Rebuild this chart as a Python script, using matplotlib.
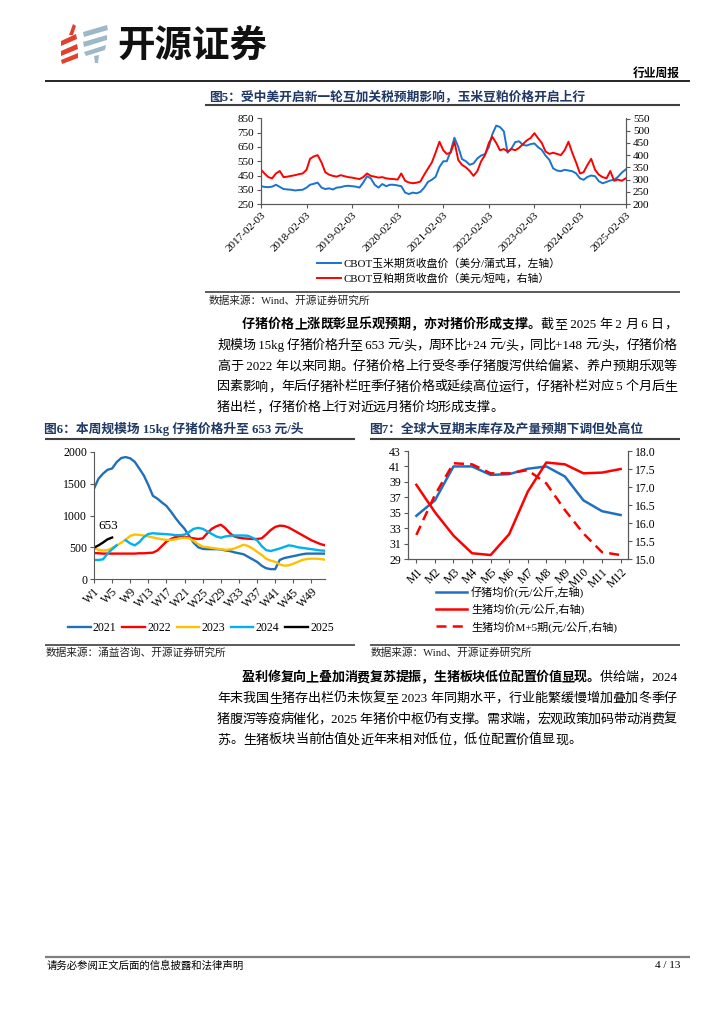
import re
import numpy as np
import pandas as pd
import matplotlib
matplotlib.use("Agg")
import matplotlib.pyplot as plt

# -----------------------------
# Data
# -----------------------------
# Fig 5: CBOT corn (left, cents/bushel) and soybean meal (right, USD/short ton), monthly readings
corn_price = [
    375, 370, 368, 372, 385, 370, 355, 352, 350, 345, 348,            # 2017 Feb-Dec
    350, 365, 385, 392, 400, 365, 355, 360, 352, 365, 368, 375,       # 2018
    378, 375, 372, 365, 400, 445, 430, 385, 365, 390, 375, 385,       # 2019
    385, 380, 375, 330, 320, 330, 325, 335, 365, 405, 420, 440,       # 2020
    510, 550, 550, 620, 715, 650, 565, 550, 525, 535, 570, 590,       # 2021
    600, 650, 740, 800, 790, 760, 610, 640, 685, 690, 665, 660,       # 2022
    670, 675, 650, 630, 590, 560, 500, 485, 480, 490, 485, 480,       # 2023
    465, 430, 420, 440, 450, 445, 410, 395, 405, 415, 420, 440,       # 2024
    470, 492,                                                         # 2025 Jan-Feb
]
meal_price = [
    340, 325, 310, 305, 325, 335, 310, 312, 315, 318, 322,
    325, 340, 385, 395, 400, 370, 330, 320, 315, 312, 318, 314,
    310, 308, 305, 302, 310, 325, 315, 312, 308, 310, 305, 303,
    302, 300, 325, 295, 288, 285, 287, 292, 320, 345, 370, 410,
    455, 420, 405, 410, 455, 380, 360, 350, 335, 315, 335, 375,
    400, 450, 475, 450, 420, 425, 415, 425, 420, 430, 445, 460,
    470, 490, 470, 450, 415, 405, 410, 405, 400, 420, 455, 410,
    370, 325, 330, 360, 385, 340, 320, 310, 305, 335, 295, 300,
    295, 305,
]
month_dates = pd.date_range("2017-02-01", "2025-02-01", freq="MS") + pd.Timedelta(days=2)
year_ticks = [f"{y}-02-03" for y in range(2017, 2026)]

# Fig 6: piglet price by week (yuan/head)
weeks = list(range(1, 53))
week_labels = [f"W{w}" for w in weeks[::4]]
piglet_2021 = [1424, 1580, 1660, 1720, 1740, 1840, 1905, 1920, 1900, 1845,
               1740, 1630, 1480, 1310, 1265, 1205, 1150, 1060, 960, 870,
               790, 680, 570, 500, 475, 470, 470, 470, 465, 450,
               440, 420, 405, 390, 350, 310, 270, 210, 170, 155,
               155, 300, 330, 345, 360, 375, 390, 400, 400, 400, 400, 400]
piglet_2022 = [410, 405, 400, 400, 400, 400, 400, 400, 400, 400,
               405, 405, 410, 415, 450, 520, 590, 630, 660, 670,
               665, 650, 640, 630, 640, 720, 790, 830, 855, 800,
               720, 670, 650, 640, 635, 630, 630, 640, 700, 770,
               820, 840, 835, 810, 770, 730, 690, 650, 610, 580, 550, 530]
piglet_2023 = [490, 460, 450, 455, 490, 530, 570, 620, 680, 700,
               695, 685, 670, 655, 640, 625, 615, 615, 625, 640,
               650, 640, 600, 550, 510, 500, 490, 480, 470, 460,
               465, 480, 510, 540, 520, 480, 430, 380, 320, 290,
               270, 230, 210, 215, 240, 270, 300, 315, 320, 320, 315, 305]
piglet_2024 = [300, 300, 310, 400, 470, 530, np.nan, 610, 560, 530,
               580, 660, 710, 720, 715, 710, 705, 700, 690, 690,
               700, 740, 790, 805, 790, 750, 710, 670, 650, 670,
               680, 685, 685, 685, 680, 650, 610, 520, 455, 440,
               460, 480, 505, 530, 520, 500, 490, 480, 470, 460, 450, 445]
piglet_2025 = [493, 530, 575, 625, 653]

# Fig 7: monthly piglet / hog prices
months = [f"M{m}" for m in range(1, 13)]
piglet_avg = [34.6, 36.6, 41.0, 41.0, 39.9, 40.0, 40.7, 41.0, 39.7, 36.6, 35.2, 34.7]
hog_avg = [17.06, 16.30, 15.65, 15.16, 15.11, 15.69, 16.87, 17.68, 17.63, 17.38, 17.40, 17.50]
hog_avg_m5 = [15.67, 16.78, 17.66, 17.63, 17.38, 17.38, 17.47, 17.10, 16.36, 15.71, 15.19, 15.11]

# -----------------------------
# Page setup
# -----------------------------
W, H = 724, 1024
SERIF = ["Liberation Serif", "Noto Sans CJK SC"]
plt.rcParams["font.family"] = SERIF
plt.rcParams["axes.unicode_minus"] = False
NAVY = "#1F3864"
GREY = "#404040"
AX = "#595959"

fig = plt.figure(figsize=(W / 100, H / 100), dpi=100)
bg = fig.add_axes([0, 0, 1, 1], zorder=0)
bg.set_xlim(0, W)
bg.set_ylim(H, 0)
bg.axis("off")


def px_axes(x0, y0, x1, y1):
    ax = fig.add_axes([x0 / W, 1 - y1 / H, (x1 - x0) / W, (y1 - y0) / H], zorder=2)
    ax.set_facecolor("none")
    return ax


def hline(x0, x1, y, color, lw):
    bg.plot([x0, x1], [y, y], color=color, lw=lw, solid_capstyle="butt")


def write_line(x0, x1, y, parts, size, justify=True):
    # place each CJK char / ascii run separately so the line fills x0..x1
    renderer = fig.canvas.get_renderer()
    toks = []
    for s, bold in parts:
        for t in re.findall(r"[\x00-\x7f]+|.", s):
            toks.append((t, bold))
    widths = []
    for t, bold in toks:
        tx = bg.text(0, 0, t, fontsize=size, fontweight="bold" if bold else "normal")
        widths.append(tx.get_window_extent(renderer).width)
        tx.remove()
    gap = (x1 - x0 - sum(widths)) / (len(toks) - 1) if justify else 0
    x = x0
    for (t, bold), w in zip(toks, widths):
        bg.text(x, y, t, fontsize=size, fontweight="bold" if bold else "normal",
                ha="left", va="center", color="black")
        x += w + gap


# -----------------------------
# Header: logo + report type
# -----------------------------
red_bars = [[(61, 41), (76, 34), (77, 39), (61, 46)],
            [(61, 51), (77, 44), (78, 49), (61, 56)],
            [(61, 60), (78, 53), (78, 58), (62, 64)],
            [(69, 35), (73, 24), (76, 26), (73, 35)]]
blue_bars = [[(83, 32), (107, 25), (108, 30), (84, 37)],
             [(83, 42), (107, 35), (107, 40), (84, 47)],
             [(84, 52), (106, 45), (105, 50), (86, 56)],
             [(94, 56), (99, 55), (98, 63), (95, 63)]]
for p in red_bars:
    bg.add_patch(plt.Polygon(p, closed=True, color="#E0402E", lw=0))
for p in blue_bars:
    bg.add_patch(plt.Polygon(p, closed=True, color="#9DB8C8", lw=0))
bg.text(117, 45, "开源证券", fontsize=27, fontweight="bold", family="Noto Sans CJK SC",
        ha="left", va="center", color="#111111")
bg.text(680, 73, "行业周报", fontsize=8.5, fontweight="bold", family="Noto Sans CJK SC",
        ha="right", va="center")
hline(45, 690, 80.5, "black", 1.2)

# -----------------------------
# Fig 5
# -----------------------------
bg.text(209, 97, "图5：受中美开启新一轮互加关税预期影响，玉米豆粕价格开启上行", fontsize=9.2,
        fontweight="bold", color=NAVY, ha="left", va="center")
hline(205, 680, 105, GREY, 1.5)

ax5 = px_axes(261, 118.5, 626, 204)
ax5r = ax5.twinx()
l1, = ax5.plot(month_dates, corn_price, color="#1874CD", lw=1.4)
l2, = ax5r.plot(month_dates, meal_price, color="#FF0000", lw=1.4)
ax5.set_xlim(pd.Timestamp("2017-02-03"), pd.Timestamp("2025-02-06"))
ax5.set_ylim(250, 850)
ax5.set_yticks(range(250, 851, 100))
ax5r.set_ylim(200, 550)
ax5r.set_yticks(range(200, 551, 50))
ax5.set_xticks(pd.to_datetime(year_ticks))
ax5.set_xticklabels(year_ticks, rotation=45, ha="right", va="top", rotation_mode="anchor")
for a in (ax5, ax5r):
    a.spines["top"].set_visible(False)
    for s in a.spines.values():
        s.set_color(AX)
        s.set_linewidth(0.8)
    a.tick_params(labelsize=8, length=3, width=0.8, color=AX, pad=2)
ax5.legend([l1, l2], ["CBOT玉米期货收盘价（美分/蒲式耳，左轴）", "CBOT豆粕期货收盘价（美元/短吨，右轴）"],
           loc="upper left", bbox_to_anchor=(317 / W, 1 - 258 / H), bbox_transform=fig.transFigure,
           frameon=False, fontsize=7.8, handlelength=2.2, handletextpad=0.25,
           labelspacing=0.45, borderpad=0, borderaxespad=0)
hline(205, 680, 291.5, GREY, 1.2)
bg.text(209, 301, "数据来源：Wind、开源证券研究所", fontsize=7.7, color="#222222", va="center")

# -----------------------------
# Paragraph 1
# -----------------------------
BODY = 9.4
p1 = [
    [("仔猪价格上涨既彰显乐观预期，亦对猪价形成支撑。", True), ("截至 2025 年 2 月 6 日，", False)],
    [("规模场 15kg 仔猪价格升至 653 元/头，周环比+24 元/头，同比+148 元/头，仔猪价格", False)],
    [("高于 2022 年以来同期。仔猪价格上行受冬季仔猪腹泻供给偏紧、养户预期乐观等", False)],
    [("因素影响，年后仔猪补栏旺季仔猪价格或延续高位运行，仔猪补栏对应 5 个月后生", False)],
    [("猪出栏，仔猪价格上行对近远月猪价均形成支撑。", False)],
]
for i, parts in enumerate(p1):
    x0 = 242 if i == 0 else 217
    write_line(x0, 677, 325 + i * 20.8, parts, BODY, justify=(i < len(p1) - 1))

# -----------------------------
# Fig 6
# -----------------------------
bg.text(44, 429, "图6：本周规模场 15kg 仔猪价格升至 653 元/头", fontsize=9.2,
        fontweight="bold", color=NAVY, ha="left", va="center")
hline(45, 355, 438.5, GREY, 1.5)

ax6 = px_axes(94, 452, 325, 579)
cols6 = {"2021": "#1F70B8", "2022": "#FF0000", "2023": "#FFC000", "2024": "#00B0F0", "2025": "#000000"}
ax6.plot(weeks, piglet_2021, color=cols6["2021"], lw=1.7, label="2021")
ax6.plot(weeks, piglet_2022, color=cols6["2022"], lw=1.7, label="2022")
ax6.plot(weeks, piglet_2023, color=cols6["2023"], lw=1.7, label="2023")
ax6.plot(weeks, piglet_2024, color=cols6["2024"], lw=1.7, label="2024")
ax6.plot(weeks[:len(piglet_2025)], piglet_2025, color=cols6["2025"], lw=1.7, label="2025")
ax6.annotate(str(piglet_2025[-1]), xy=(len(piglet_2025), piglet_2025[-1]), xytext=(-3, 4),
             textcoords="offset points", ha="center", va="bottom", fontsize=9.5)
ax6.set_xlim(1, 52)
ax6.set_ylim(0, 2000)
ax6.set_yticks(range(0, 2001, 500))
ax6.set_xticks(weeks[::4])
ax6.set_xticklabels(week_labels, rotation=45, ha="right", va="top", rotation_mode="anchor")
for s in ("top", "right"):
    ax6.spines[s].set_visible(False)
for s in ("left", "bottom"):
    ax6.spines[s].set_color(AX)
    ax6.spines[s].set_linewidth(0.8)
ax6.tick_params(labelsize=8.5, length=3, width=0.8, color=AX, pad=2)
ax6.legend(ncol=5, loc="center", bbox_to_anchor=(201 / W, 1 - 628 / H), bbox_transform=fig.transFigure,
           frameon=False, fontsize=8.5, handlelength=1.9, handletextpad=0.2, columnspacing=0.5,
           borderpad=0, borderaxespad=0)
hline(45, 355, 644.5, GREY, 1.2)
bg.text(46, 653, "数据来源：涌益咨询、开源证券研究所", fontsize=7.7, color="#222222", va="center")

# -----------------------------
# Fig 7
# -----------------------------
bg.text(369, 429, "图7：全球大豆期末库存及产量预期下调但处高位", fontsize=9.2,
        fontweight="bold", color=NAVY, ha="left", va="center")
hline(370, 680, 438.5, GREY, 1.5)

ax7 = px_axes(408, 451, 628, 559)
ax7r = ax7.twinx()
m_idx = np.arange(len(months))
a1, = ax7.plot(m_idx, piglet_avg, color="#1F70C0", lw=1.8)
a2, = ax7r.plot(m_idx, hog_avg, color="#FF0000", lw=1.8)
a3, = ax7r.plot(m_idx, hog_avg_m5, color="#FF0000", lw=1.8, ls=(0, (4, 2.5)))
ax7.set_xlim(-0.45, 11.4)
ax7.set_ylim(29, 43)
ax7.set_yticks(range(29, 44, 2))
ax7r.set_ylim(15, 18)
ax7r.set_yticks(np.arange(15, 18.01, 0.5))
ax7r.set_yticklabels([f"{v:.1f}" for v in np.arange(15, 18.01, 0.5)])
ax7.set_xticks(m_idx)
ax7.set_xticklabels(months, rotation=45, ha="right", va="top", rotation_mode="anchor")
for a in (ax7, ax7r):
    a.spines["top"].set_visible(False)
    for s in a.spines.values():
        s.set_color(AX)
        s.set_linewidth(0.8)
    a.tick_params(labelsize=8.5, length=3, width=0.8, color=AX, pad=2)
ax7.legend([a1, a2, a3], ["仔猪均价(元/公斤,左轴)", "生猪均价(元/公斤,右轴)", "生猪均价M+5期(元/公斤,右轴)"],
           loc="upper left", bbox_to_anchor=(436 / W, 1 - 586 / H), bbox_transform=fig.transFigure,
           frameon=False, fontsize=8, handlelength=2.8, handletextpad=0.35,
           labelspacing=0.5, borderpad=0, borderaxespad=0)
hline(370, 680, 644.5, GREY, 1.2)
bg.text(371, 653, "数据来源：Wind、开源证券研究所", fontsize=7.7, color="#222222", va="center")

# -----------------------------
# Paragraph 2
# -----------------------------
p2 = [
    [("盈利修复向上叠加消费复苏提振，生猪板块低位配置价值显现。", True), ("供给端，2024", False)],
    [("年末我国生猪存出栏仍未恢复至 2023 年同期水平，行业能繁缓慢增加叠加冬季仔", False)],
    [("猪腹泻等疫病催化，2025 年猪价中枢仍有支撑。需求端，宏观政策加码带动消费复", False)],
    [("苏。生猪板块当前估值处近年来相对低位，低位配置价值显现。", False)],
]
for i, parts in enumerate(p2):
    x0 = 242 if i == 0 else 217
    write_line(x0, 677, 678 + i * 20.8, parts, BODY, justify=(i < len(p2) - 1))

# -----------------------------
# Footer
# -----------------------------
hline(45, 690, 957, "#7F7F7F", 1.6)
bg.text(47, 966, "请务必参阅正文后面的信息披露和法律声明", fontsize=7.5, va="center")
bg.text(680, 966, "4 / 13", fontsize=8, va="center", ha="right")

fig.savefig("out.png", dpi=100)
